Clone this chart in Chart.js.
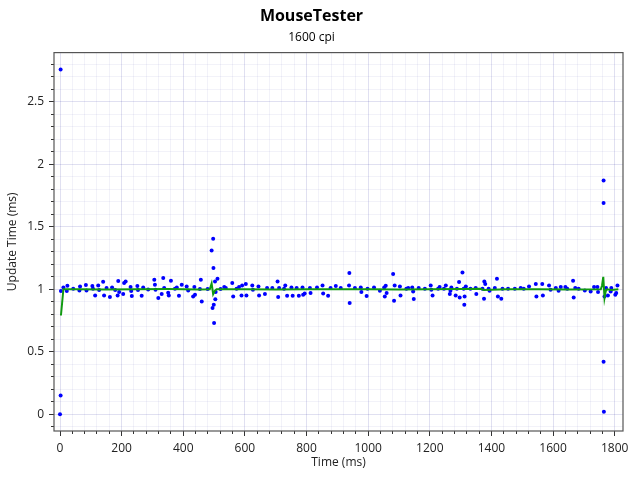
<!DOCTYPE html>
<html>
<head>
<meta charset="utf-8">
<title>MouseTester</title>
<script src="https://cdn.jsdelivr.net/npm/chart.js@4.4.0/dist/chart.umd.min.js"></script>
<style>
  body { margin: 0; background: #fff; }
  canvas { display: block; }
</style>
</head>
<body>
<canvas id="myChart" width="640" height="480"></canvas>
<script>
const chartTitle = 'MouseTester';
const chartSubtitle = '1600 cpi';

// [time (ms), update time (ms)]
const updateSamples = [
    [0, 0.0], [2, 0.15], [2, 2.76],
    [3, 0.986], [11, 1.014], [22, 0.986], [24, 1.028], [43, 1.004], [63, 0.990], [65, 1.022],
    [84, 1.034], [86, 0.990], [105, 1.026], [107, 1.004], [114, 0.950], [124, 1.030], [127, 0.994],
    [140, 1.060], [143, 0.950], [151, 1.010], [162, 0.938], [169, 1.014], [179, 0.994], [187, 0.950],
    [189, 1.066], [192, 0.978], [205, 0.962], [208, 1.050], [213, 1.062], [229, 1.018], [231, 0.986],
    [233, 0.946], [251, 1.026], [253, 0.994], [265, 0.948], [270, 1.014], [286, 0.998],
    [306, 1.076], [308, 1.036], [310, 0.996], [319, 0.930], [330, 0.962], [335, 1.090], [338, 1.010],
    [351, 0.972], [353, 0.950], [360, 1.068], [373, 1.004], [379, 1.014], [386, 0.948], [395, 1.036],
    [411, 1.022], [416, 0.990], [432, 0.942], [436, 1.018], [438, 0.956], [454, 1.002], [457, 1.076],
    [460, 0.902], [479, 1.002], [492, 1.310], [495, 0.850], [497, 1.405], [498, 1.170], [499, 0.876],
    [500, 0.730], [503, 1.062], [504, 0.920], [505, 0.978], [511, 1.084], [521, 1.002], [533, 1.018],
    [538, 1.010], [559, 1.050], [562, 0.942], [573, 1.004], [581, 1.018], [589, 0.950], [591, 1.030],
    [603, 1.042], [605, 0.950], [624, 1.030], [626, 0.996], [644, 1.022], [646, 0.950], [665, 0.962],
    [672, 1.010], [689, 1.010], [706, 1.062], [708, 0.938], [711, 1.010], [727, 1.004], [731, 1.030],
    [737, 0.948], [751, 1.014], [755, 0.948], [768, 1.010], [775, 0.948], [787, 1.014], [789, 0.956],
    [794, 0.966], [811, 1.010], [813, 0.970], [834, 1.014], [852, 1.030], [854, 0.966], [870, 0.948],
    [878, 1.010], [895, 1.026], [911, 1.010], [938, 1.030], [939, 1.130], [940, 0.890],
    [957, 1.010], [976, 1.014], [978, 0.978], [995, 0.946], [998, 1.004], [1019, 1.014], [1038, 0.988],
    [1052, 1.014], [1054, 0.942], [1057, 1.028], [1060, 0.970], [1081, 1.122], [1084, 0.908],
    [1086, 1.030], [1103, 1.022], [1105, 0.950], [1124, 1.004], [1130, 1.010], [1143, 1.014],
    [1146, 0.982], [1148, 0.922], [1164, 1.010], [1184, 1.004], [1203, 1.030], [1205, 0.996],
    [1209, 0.950], [1227, 1.004], [1232, 1.018], [1246, 1.004], [1252, 1.030], [1265, 0.962],
    [1267, 0.988], [1270, 1.014], [1284, 0.950], [1288, 1.004], [1295, 1.058], [1297, 0.934],
    [1306, 1.135], [1310, 1.004], [1312, 0.876], [1313, 0.942], [1317, 1.022], [1332, 1.004],
    [1349, 1.010], [1351, 0.962], [1371, 1.004], [1376, 0.924], [1377, 1.062], [1380, 1.042],
    [1391, 1.004], [1394, 0.988], [1411, 1.010], [1418, 1.084], [1421, 0.942], [1432, 0.924],
    [1436, 1.004], [1454, 1.004], [1476, 1.004], [1495, 1.010], [1505, 1.004], [1522, 1.022],
    [1544, 1.042], [1546, 0.942], [1565, 1.042], [1567, 0.950], [1587, 1.030], [1592, 0.996],
    [1609, 1.010], [1618, 0.988], [1625, 1.018], [1640, 1.018], [1646, 1.004], [1665, 1.068],
    [1667, 0.934], [1672, 1.010], [1683, 1.004], [1703, 0.990], [1722, 0.982], [1733, 1.018],
    [1744, 1.018], [1746, 0.978], [1764, 1.870], [1764, 1.690], [1764, 0.420], [1765, 0.020],
    [1767, 0.942], [1772, 1.010], [1778, 0.950], [1787, 0.982], [1789, 1.010], [1802, 0.956],
    [1805, 0.970], [1809, 1.030]
];

// smoothed line
const avgTimes = [3, 11, 60, 150, 250, 350, 450, 486, 492, 497, 502, 508, 600, 700, 800, 900, 1000,
    1100, 1200, 1300, 1365, 1375, 1450, 1550, 1650, 1755, 1759, 1763, 1767, 1771, 1775, 1790, 1812];
const avgValues = [0.79, 1.0, 1.0, 0.998, 1.0, 1.002, 0.999, 1.0, 1.047, 0.96, 0.985, 1.0, 1.0, 0.998,
    1.0, 1.001, 1.0, 0.999, 1.0, 1.003, 1.004, 0.995, 1.0, 1.0, 0.998, 1.0, 1.03, 1.10, 0.93, 0.985,
    1.0, 0.995, 1.0];

const xTickLabels = ['0', '200', '400', '600', '800', '1000', '1200', '1400', '1600', '1800'];
const yTickLabels = ['0', '0.5', '1', '1.5', '2', '2.5'];
const xMinorStep = 40;
const yMinorStep = 0.1;
const xRange = [-19.5, 1827];
const yRange = [-0.135, 2.895];

const majorGrid = 'rgba(0, 0, 139, 0.12)';
const minorGrid = 'rgba(0, 0, 139, 0.05)';

Chart.defaults.font.family = '"Open Sans", "Noto Sans", sans-serif';
Chart.defaults.color = '#222';

function minorTicks(min, max, step) {
    let ticks = [];
    for (let i = Math.ceil(min / step - 1e-9); i * step <= max + 1e-9; i++) {
        ticks.push({ value: Number((i * step).toFixed(6)) });
    }
    return ticks;
}

function labelFor(value, labels) {
    let found = labels.find(l => Math.abs(Number(l) - value) < 1e-6);
    return found === undefined ? '' : found;
}

function isMajor(ctx, labels) {
    return ctx.tick ? labelFor(ctx.tick.value, labels) !== '' : false;
}

const plotBorder = {
    id: 'plotBorder',
    afterDatasetsDraw(chart) {
        const { ctx, chartArea: a } = chart;
        ctx.save();
        ctx.strokeStyle = '#555';
        ctx.lineWidth = 1.2;
        ctx.strokeRect(a.left, a.top, a.right - a.left, a.bottom - a.top);
        ctx.restore();
    }
};

let ctx = document.getElementById('myChart');

let myChart = new Chart(ctx, {
    type: 'scatter',
    data: {
        datasets: [{
            type: 'line',
            label: 'Average',
            data: avgTimes.map((t, i) => ({ x: t, y: avgValues[i] })),
            borderColor: '#119a11',
            borderWidth: 2,
            pointRadius: 0,
            showLine: true,
            fill: false,
            tension: 0
        }, {
            type: 'scatter',
            label: 'Update Time',
            data: updateSamples.map(s => ({ x: s[0], y: s[1] })),
            backgroundColor: '#0000ff',
            borderWidth: 0,
            pointRadius: 2
        }]
    },
    plugins: [plotBorder],
    options: {
        responsive: false,
        animation: false,
        devicePixelRatio: 1,
        layout: {
            padding: { left: 0, right: 17, top: 0, bottom: 0 }
        },
        plugins: {
            legend: { display: false },
            tooltip: { enabled: false },
            title: {
                display: true,
                text: chartTitle,
                color: '#000',
                font: { size: 16, weight: 'bold', lineHeight: 1.2 },
                padding: { top: 7, bottom: 3 }
            },
            subtitle: {
                display: true,
                text: chartSubtitle,
                color: '#000',
                font: { size: 12, lineHeight: 1.2 },
                padding: { top: 1, bottom: 8 }
            }
        },
        scales: {
            x: {
                type: 'linear',
                position: 'bottom',
                bounds: 'data',
                min: xRange[0],
                max: xRange[1],
                afterBuildTicks: s => { s.ticks = minorTicks(s.min, s.max, xMinorStep); },
                afterFit: s => { s.height = 49; },
                ticks: {
                    autoSkip: false,
                    maxRotation: 0,
                    minRotation: 0,
                    padding: 5,
                    font: { size: 12 },
                    callback: value => labelFor(value, xTickLabels)
                },
                grid: {
                    color: c => isMajor(c, xTickLabels) ? majorGrid : minorGrid,
                    tickColor: '#333',
                    tickLength: 5,
                    tickBorderDash: [5, 100],
                    tickBorderDashOffset: c => isMajor(c, xTickLabels) ? 0 : 2
                },
                border: { display: false },
                title: {
                    display: true,
                    text: 'Time (ms)',
                    font: { size: 12 },
                    padding: { top: 0, bottom: 10 }
                }
            },
            y: {
                type: 'linear',
                position: 'left',
                bounds: 'data',
                min: yRange[0],
                max: yRange[1],
                afterBuildTicks: s => { s.ticks = minorTicks(s.min, s.max, yMinorStep); },
                afterFit: s => { s.width = 54; },
                ticks: {
                    autoSkip: false,
                    padding: 5,
                    font: { size: 12 },
                    callback: value => labelFor(value, yTickLabels)
                },
                grid: {
                    color: c => isMajor(c, yTickLabels) ? majorGrid : minorGrid,
                    tickColor: '#333',
                    tickLength: 5,
                    tickBorderDash: [5, 100],
                    tickBorderDashOffset: c => isMajor(c, yTickLabels) ? 0 : -2
                },
                border: { display: false },
                title: {
                    display: true,
                    text: 'Update Time (ms)',
                    font: { size: 12 },
                    padding: { top: 5, bottom: 0 }
                }
            }
        }
    }
});
</script>
</body>
</html>
